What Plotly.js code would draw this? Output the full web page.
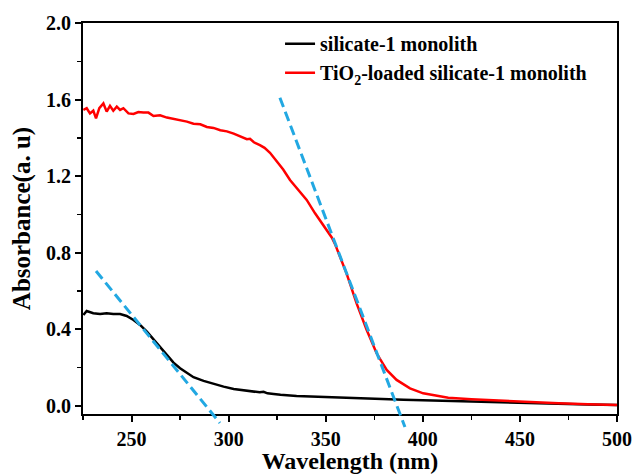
<!DOCTYPE html>
<html>
<head>
<meta charset="utf-8">
<script src="https://cdn.plot.ly/plotly-3.0.1.min.js"></script>
<style>html,body{margin:0;padding:0;background:#fff;}#chart{width:633px;height:474px;}</style>
</head>
<body>
<div id="chart"></div>
<script>
// silicate-1 monolith (black)
var blackNm = [225.2,226.9,230.3,233.8,237.2,240.6,244.1,247.5,251,254.4,257.9,261.3,264.7,268.2,271.6,275,278.5,281.9,287.1,292.2,297.4,302.6,307.7,312.9,316,318,320,323.2,326.7,335,345,355,370,390,410,430,450,470,485,500];
var blackAbs = [0.475,0.496,0.484,0.48,0.484,0.48,0.48,0.47,0.449,0.423,0.388,0.348,0.31,0.27,0.226,0.197,0.171,0.15,0.131,0.115,0.101,0.089,0.082,0.075,0.071,0.074,0.066,0.063,0.058,0.052,0.048,0.044,0.04,0.033,0.027,0.021,0.015,0.01,0.007,0.005];

// TiO2-loaded silicate-1 monolith (red)
var redNm = [225.2,226.9,228.6,230.3,231.7,233.4,235.5,237.2,238.9,240.6,242.4,244.1,245.8,248.4,251,253.5,256.1,258.7,261.3,264.7,268.2,271.6,275,278.5,281.9,285.4,288.8,292.2,295.7,299.1,302.6,305.8,309.4,311,313,316.1,318.5,321.3,324.7,328.1,331.6,336.7,340.2,344.5,348.7,353.1,354.8,357.3,360.8,365.9,371.1,376.2,381.4,386.5,393.4,400.2,407.1,413.1,425,440,455,470,485,500];
var redAbs = [1.546,1.555,1.528,1.542,1.502,1.555,1.58,1.537,1.567,1.542,1.563,1.546,1.555,1.528,1.525,1.535,1.532,1.532,1.514,1.518,1.506,1.5,1.49,1.485,1.474,1.471,1.457,1.452,1.44,1.434,1.422,1.41,1.393,1.395,1.377,1.362,1.348,1.322,1.276,1.235,1.18,1.119,1.076,1.006,0.945,0.88,0.845,0.78,0.69,0.536,0.397,0.275,0.188,0.136,0.092,0.066,0.052,0.043,0.035,0.027,0.02,0.014,0.009,0.005];

// tangent (onset) lines: [x0, x1], [y0, y1]
var tan1Nm = [231.7, 295.5];
var tan1Abs = [0.705, -0.089];
var tan2Nm = [326.4, 390.8];
var tan2Abs = [1.61, -0.11];

var xTickVals = [250, 300, 350, 400, 450, 500];
var yTickVals = [0.0, 0.4, 0.8, 1.2, 1.6, 2.0];
var seriesNames = ['silicate-1 monolith', 'TiO<sub>2</sub>-loaded silicate-1 monolith'];

var xRange = [225, 500];
var yRange = [-0.042, 2.0];

function yPaper(v) { return (v - yRange[0]) / (yRange[1] - yRange[0]); }

var serif = 'Liberation Serif, Times New Roman, serif';

var traces = [
  {x: blackNm, y: blackAbs, type: 'scatter', mode: 'lines', name: seriesNames[0],
   line: {color: '#000000', width: 2.5}, legendgroup: 'a'},
  {x: redNm, y: redAbs, type: 'scatter', mode: 'lines', name: seriesNames[1],
   line: {color: '#FF0000', width: 2.5}, legendgroup: 'b'}
];

var dashStyle = {color: '#22A8E2', width: 3, dash: '10px,5px'};
var shapes = [
  {type: 'line', xref: 'x', yref: 'paper', x0: tan1Nm[0], x1: tan1Nm[1],
   y0: yPaper(tan1Abs[0]), y1: yPaper(tan1Abs[1]), line: dashStyle},
  {type: 'line', xref: 'x', yref: 'paper', x0: tan2Nm[0], x1: tan2Nm[1],
   y0: yPaper(tan2Abs[0]), y1: yPaper(tan2Abs[1]), line: dashStyle}
];

var layout = {
  width: 633, height: 474,
  margin: {l: 83, r: 16, t: 23, b: 60},
  paper_bgcolor: '#ffffff', plot_bgcolor: '#ffffff',
  font: {family: serif, color: '#000'},
  showlegend: true,
  legend: {x: 0.369, y: 0.997, xanchor: 'left', yanchor: 'top', bgcolor: 'rgba(0,0,0,0)',
           font: {family: serif, size: 20, color: '#000', weight: 'bold'}, tracegroupgap: 0},
  xaxis: {
    range: xRange, tickvals: xTickVals, ticktext: xTickVals.map(String),
    showgrid: false, zeroline: false,
    showline: true, linecolor: '#000', linewidth: 2, mirror: true,
    ticks: 'outside', ticklen: 6, tickwidth: 2, tickcolor: '#000',
    minor: {dtick: 25, tick0: 225, ticks: 'outside', ticklen: 4, tickwidth: 1.5, tickcolor: '#000', showgrid: false},
    tickfont: {family: serif, size: 20, color: '#000', weight: 'bold'},
    title: {text: 'Wavelength (nm)', font: {family: serif, size: 24, color: '#000', weight: 'bold'}, standoff: 5}
  },
  yaxis: {
    range: yRange, tickvals: yTickVals, ticktext: yTickVals.map(function(v){return v.toFixed(1);}),
    showgrid: false, zeroline: false,
    showline: true, linecolor: '#000', linewidth: 2, mirror: true,
    ticks: 'outside', ticklen: 6, tickwidth: 2, tickcolor: '#000',
    minor: {dtick: 0.2, tick0: 0, ticks: 'outside', ticklen: 4, tickwidth: 1.5, tickcolor: '#000', showgrid: false},
    tickfont: {family: serif, size: 20, color: '#000', weight: 'bold'},
    title: {text: 'Absorbance(a. u)', font: {family: serif, size: 25, color: '#000', weight: 'bold'}, standoff: 8}
  },
  shapes: shapes
};

Plotly.newPlot('chart', traces, layout, {displayModeBar: false, staticPlot: true});
</script>
</body>
</html>
